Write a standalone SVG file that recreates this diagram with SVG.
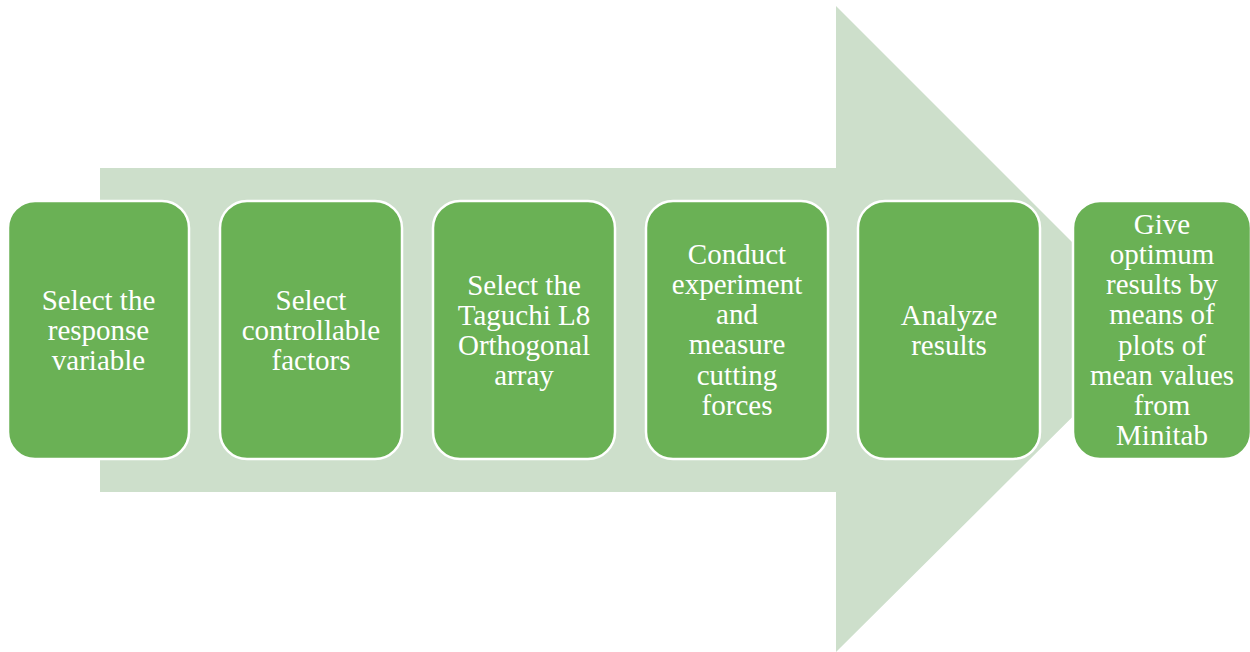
<svg xmlns="http://www.w3.org/2000/svg" width="1250" height="652" viewBox="0 0 1250 652">
<style>
.box{fill:#6ab155;stroke:#ffffff;stroke-width:2.5}
.t{font-family:"Liberation Serif","Times New Roman",serif;font-size:29px;fill:#ffffff;text-anchor:middle}
</style>
<rect width="1250" height="652" fill="#ffffff"/>
<g id="arrow">
<polygon points="100,168 836,168 836,6 1160,330 836,652 836,492 100,492" fill="#cddfcb"/>
</g>
<g id="connectors"></g>
<g id="n1"><rect class="box" x="8" y="201" width="181" height="258" rx="27"/>
<text class="t" x="98.5" y="310">Select the</text><text class="t" x="98.5" y="340">response</text><text class="t" x="98.5" y="370">variable</text></g>
<g id="n2"><rect class="box" x="220" y="201" width="182" height="258" rx="27"/>
<text class="t" x="311" y="310">Select</text><text class="t" x="311" y="340">controllable</text><text class="t" x="311" y="370">factors</text></g>
<g id="n3"><rect class="box" x="433" y="201" width="182" height="258" rx="27"/>
<text class="t" x="524" y="295">Select the</text><text class="t" x="524" y="325">Taguchi L8</text><text class="t" x="524" y="355">Orthogonal</text><text class="t" x="524" y="385">array</text></g>
<g id="n4"><rect class="box" x="646" y="201" width="182" height="258" rx="27"/>
<text class="t" x="737" y="264">Conduct</text><text class="t" x="737" y="294">experiment</text><text class="t" x="737" y="324">and</text><text class="t" x="737" y="354">measure</text><text class="t" x="737" y="385">cutting</text><text class="t" x="737" y="415">forces</text></g>
<g id="n5"><rect class="box" x="858" y="201" width="182" height="258" rx="27"/>
<text class="t" x="949" y="325">Analyze</text><text class="t" x="949" y="355">results</text></g>
<g id="n6"><rect class="box" x="1073" y="201" width="178" height="258" rx="27"/>
<text class="t" x="1162" y="234">Give</text><text class="t" x="1162" y="264">optimum</text><text class="t" x="1162" y="294">results by</text><text class="t" x="1162" y="324">means of</text><text class="t" x="1162" y="355">plots of</text><text class="t" x="1162" y="385">mean values</text><text class="t" x="1162" y="415">from</text><text class="t" x="1162" y="445">Minitab</text></g>
</svg>
